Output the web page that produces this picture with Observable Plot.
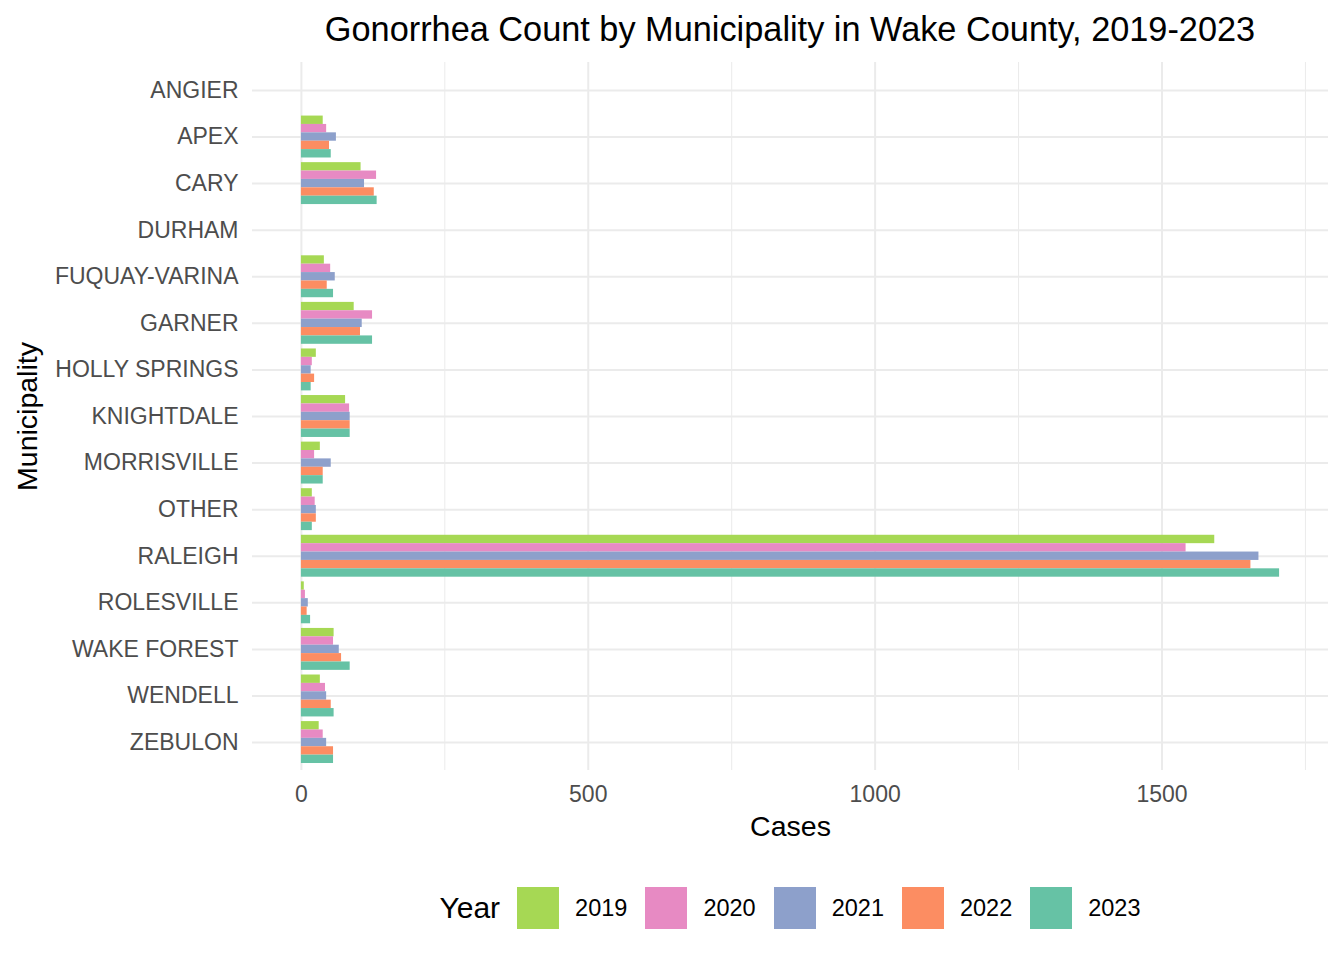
<!DOCTYPE html>
<html>
<head>
<meta charset="utf-8">
<script src="https://cdn.jsdelivr.net/npm/d3@7"></script>
<script src="https://cdn.jsdelivr.net/npm/@observablehq/plot@0.6"></script>
<style>
  body { margin: 0; background: #fff; font-family: "Liberation Sans", Arial, sans-serif; }
  #wrap { width: 1344px; position: relative; }
  #title { height: 45px; padding-top: 13px; padding-left: 252px; padding-right: 16px; text-align: center;
           font-size: 34.3px; line-height: 33px; color: #000; white-space: nowrap; }
  #legend { display: flex; align-items: center; justify-content: center; padding-left: 252px; padding-right: 16px;
            padding-top: 27px; height: 42px; }
  #legend .lt { font-size: 30px; color: #000; margin-right: 17px; }
  #legend .sw { width: 42px; height: 42px; margin-right: 16px; }
  #legend .lb { font-size: 23.5px; color: #000; margin-right: 18px; }
  svg { display: block; }
</style>
</head>
<body>
<div id="wrap">
  <div id="title">Gonorrhea Count by Municipality in Wake County, 2019-2023</div>
  <div id="chart"></div>
  <div id="legend"></div>
</div>
<script>
const municipalities = ["ANGIER","APEX","CARY","DURHAM","FUQUAY-VARINA","GARNER","HOLLY SPRINGS","KNIGHTDALE","MORRISVILLE","OTHER","RALEIGH","ROLESVILLE","WAKE FOREST","WENDELL","ZEBULON"];
const years = ["2019","2020","2021","2022","2023"];
const colors = ["#A6D854","#E78AC3","#8DA0CB","#FC8D62","#66C2A5"];
const cases2019 = [null,38,104,null,40,92,26,77,33,19,1592,5,57,33,31];
const cases2020 = [null,44,131,null,51,124,19,84,23,24,1542,7,56,42,38];
const cases2021 = [null,61,110,null,59,106,17,85,52,26,1669,12,66,44,44];
const cases2022 = [null,49,127,null,45,103,23,85,38,26,1655,10,70,52,56];
const cases2023 = [null,52,132,null,56,124,17,85,38,19,1705,16,85,57,56];
const majorTicks = [0,500,1000,1500];
const minorTicks = [250,750,1250,1750];

const series = [cases2019, cases2020, cases2021, cases2022, cases2023];
const data = [];
years.forEach((yr, i) => {
  municipalities.forEach((m, j) => {
    if (series[i][j] != null) data.push({muni: m, year: yr, cases: series[i][j]});
  });
});

const W = 1344, H = 802, mt = 4, mb = 90, ml = 252, mr = 16;
const padIn = 0.1, padOut = 0.15;
const step = (H - mt - mb) / (municipalities.length - padIn + 2 * padOut);
const bw = step * (1 - padIn);
const slice = bw / years.length;

const maxV = d3.max(data, d => d.cases);
const ext = maxV * 0.05;

const plot = Plot.plot({
  width: W, height: H, marginTop: mt, marginBottom: mb, marginLeft: ml, marginRight: mr,
  style: {fontFamily: "Liberation Sans, Arial, sans-serif", background: "#fff"},
  x: {domain: [-ext, maxV + ext]},
  y: {domain: municipalities, paddingInner: padIn, paddingOuter: padOut, round: false},
  color: {domain: years, range: colors},
  marks: [
    Plot.gridX(minorTicks, {stroke: "#ebebeb", strokeOpacity: 1, strokeWidth: 1}),
    Plot.gridX(majorTicks, {stroke: "#ebebeb", strokeOpacity: 1, strokeWidth: 2}),
    Plot.gridY({stroke: "#ebebeb", strokeOpacity: 1, strokeWidth: 2}),
    ...years.map((yr, i) => Plot.barX(data.filter(d => d.year === yr), {
      x: "cases", y: "muni", fill: "year",
      insetTop: i * slice, insetBottom: (years.length - 1 - i) * slice
    })),
    Plot.axisX(majorTicks, {tickSize: 0, tickPadding: 15, fontSize: 23, color: "#4d4d4d", label: null, tickFormat: d => String(d)}),
    Plot.axisX([], {label: "Cases", labelArrow: "none", labelAnchor: "center", labelOffset: 65, fontSize: 28.5, color: "#000", tickSize: 0}),
    Plot.axisY({tickSize: 0, tickPadding: 14, fontSize: 23, color: "#4d4d4d", label: null}),
    Plot.axisY([], {label: "Municipality", labelArrow: "none", labelAnchor: "center", labelOffset: 236, fontSize: 28.5, color: "#000", tickSize: 0})
  ]
});
document.getElementById("chart").appendChild(plot);

const leg = document.getElementById("legend");
const t = document.createElement("span"); t.className = "lt"; t.textContent = "Year"; leg.appendChild(t);
years.forEach((yr, i) => {
  const s = document.createElement("span"); s.className = "sw"; s.style.background = colors[i]; leg.appendChild(s);
  const l = document.createElement("span"); l.className = "lb"; l.textContent = yr;
  if (i === years.length - 1) l.style.marginRight = "0px";
  leg.appendChild(l);
});
</script>
</body>
</html>
